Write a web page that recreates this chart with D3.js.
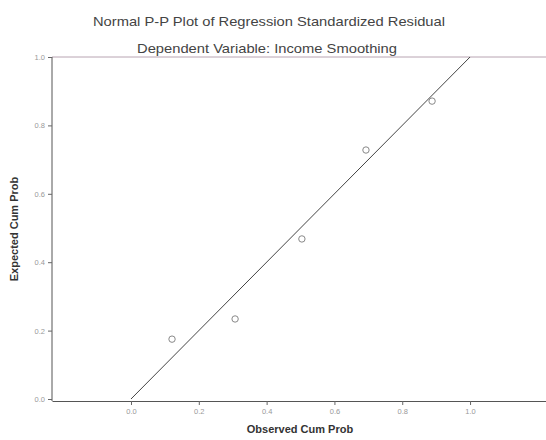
<!DOCTYPE html>
<html>
<head>
<meta charset="utf-8">
<script src="https://cdn.jsdelivr.net/npm/d3@7.9.0/dist/d3.min.js"></script>
<style>
  body { margin: 0; background: #fff; }
  svg { display: block; font-family: "Liberation Sans", Arial, sans-serif; }
</style>
</head>
<body>
<svg width="546" height="440"></svg>
<script>
// observed vs expected cumulative probabilities
const observed = [0.121, 0.307, 0.504, 0.693, 0.888];
const expected = [0.175, 0.234, 0.468, 0.728, 0.871];
const xTicks = [0.0, 0.2, 0.4, 0.6, 0.8, 1.0];
const yTicks = [0.0, 0.2, 0.4, 0.6, 0.8, 1.0];
const refLine = [0, 1];

const svg = d3.select('svg');

// scales
const x = d3.scaleLinear().domain([-0.233, 1.224]).range([52, 546]);
const y = d3.scaleLinear().domain([0, 1]).range([399, 57]);

// titles
svg.append('text')
  .attr('x', 269).attr('y', 26)
  .attr('text-anchor', 'middle')
  .attr('font-size', 13)
  .attr('fill', '#444')
  .attr('textLength', 352)
  .attr('lengthAdjust', 'spacingAndGlyphs')
  .text('Normal P-P Plot of Regression Standardized Residual');

svg.append('text')
  .attr('x', 267).attr('y', 53)
  .attr('text-anchor', 'middle')
  .attr('font-size', 13)
  .attr('fill', '#444')
  .attr('textLength', 260)
  .attr('lengthAdjust', 'spacingAndGlyphs')
  .text('Dependent Variable: Income Smoothing');

// top frame line
svg.append('line')
  .attr('x1', x.range()[0]).attr('x2', x.range()[1])
  .attr('y1', y(1)).attr('y2', y(1))
  .attr('stroke', '#b8a4b2')
  .attr('stroke-width', 1);

// x axis
const xAxis = svg.append('g')
  .attr('transform', `translate(0,${y(0) + 2})`)
  .call(d3.axisBottom(x).tickValues(xTicks).tickFormat(d3.format('.1f'))
    .tickSize(4).tickSizeOuter(0).tickPadding(4));

// y axis
const yAxis = svg.append('g')
  .attr('transform', `translate(${x.range()[0]},0)`)
  .call(d3.axisLeft(y).tickValues(yTicks).tickFormat(d3.format('.1f'))
    .tickSize(4).tickSizeOuter(0).tickPadding(3));
yAxis.select('.domain').attr('d', `M0,${y(1)}V${y(0) + 2}`);

[xAxis, yAxis].forEach(g => {
  g.select('.domain').attr('stroke', '#555');
  g.selectAll('.tick line').attr('stroke', '#666');
  g.selectAll('.tick text').attr('fill', '#999').attr('font-size', 7.5);
});

// axis titles
svg.append('text')
  .attr('x', 300).attr('y', 433)
  .attr('text-anchor', 'middle')
  .attr('font-size', 11)
  .attr('font-weight', 'bold')
  .attr('fill', '#333')
  .text('Observed Cum Prob');

svg.append('text')
  .attr('transform', 'translate(18,229) rotate(-90)')
  .attr('text-anchor', 'middle')
  .attr('font-size', 11)
  .attr('font-weight', 'bold')
  .attr('fill', '#333')
  .text('Expected Cum Prob');

// reference diagonal
svg.append('line')
  .attr('x1', x(refLine[0])).attr('y1', y(refLine[0]))
  .attr('x2', x(refLine[1])).attr('y2', y(refLine[1]))
  .attr('stroke', '#444')
  .attr('stroke-width', 1);

// points
svg.selectAll('circle.pt')
  .data(observed)
  .enter()
  .append('circle')
  .attr('class', 'pt')
  .attr('cx', d => x(d))
  .attr('cy', (d, i) => y(expected[i]))
  .attr('r', 3.2)
  .attr('fill', 'none')
  .attr('stroke', '#888')
  .attr('stroke-width', 1);
</script>
</body>
</html>
